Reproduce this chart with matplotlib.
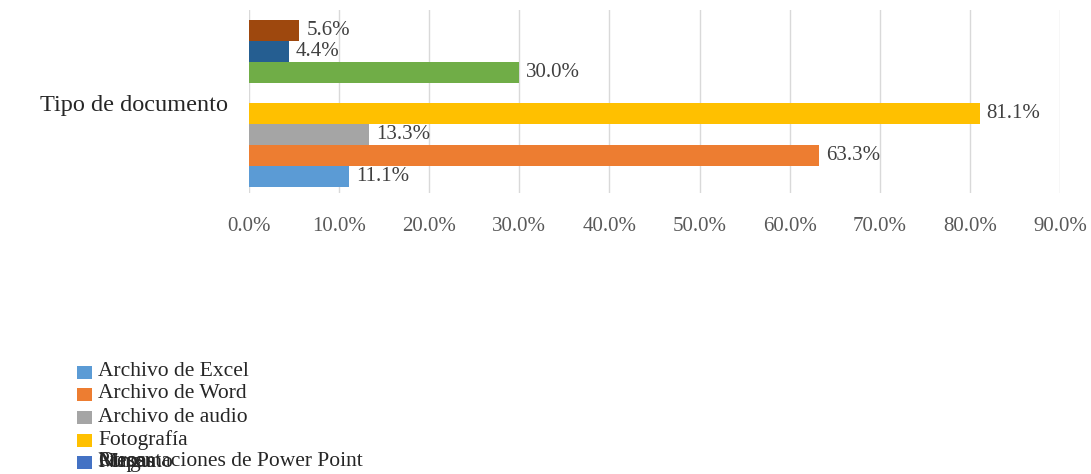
import numpy as np
import matplotlib
matplotlib.use("Agg")
import matplotlib.pyplot as plt
from matplotlib.patches import Rectangle

# Survey answers: document types shared (% of respondents)
category = "Tipo de documento"
series_names = [
    "Archivo de Excel",
    "Archivo de Word",
    "Archivo de audio",
    "Fotografía",
    "Presentaciones de Power Point",
    "Mapas",
    "Ninguno",
    "Otros",
]
series_values = [11.1, 63.3, 13.3, 81.1, np.nan, 30.0, 4.4, 5.6]
series_colors = ["#5B9BD5", "#ED7D31", "#A5A5A5", "#FFC000",
                 "#4472C4", "#70AD47", "#255E91", "#9E480E"]
x_ticks = [0, 10, 20, 30, 40, 50, 60, 70, 80, 90]

FONT = "Liberation Serif"
W, H = 1091, 474

fig = plt.figure(figsize=(W / 100, H / 100), dpi=100)
ax = fig.add_axes([249 / W, 1 - 193 / H, (1060 - 249) / W, 183 / H])

pos = np.arange(len(series_values))
for i, (v, c) in enumerate(zip(series_values, series_colors)):
    if np.isnan(v):
        continue
    ax.barh(pos[i], v, height=1.0, color=c, zorder=2)
    ax.annotate(f"{v:.1f}%", xy=(v, pos[i]), xytext=(5, 0),
                textcoords="offset points", va="center", ha="left",
                fontsize=15, family=FONT, color="#404040")

ax.set_xlim(0, 90)
ax.set_ylim(-0.79, 7.98)
ax.set_xticks(x_ticks)
ax.set_xticklabels([f"{t:.1f}%" for t in x_ticks], fontsize=15,
                   family=FONT, color="#595959")
ax.set_yticks([3.5])
ax.set_yticklabels([category], fontsize=17.5, family=FONT, color="#262626")
ax.tick_params(axis="x", length=0, pad=17)
ax.tick_params(axis="y", length=0, pad=15)
ax.grid(axis="x", color="#D9D9D9", linewidth=1.0, zorder=0)
for s in ax.spines.values():
    s.set_visible(False)

# legend drawn by hand; the last entries share one row
row_y = [372, 394, 417, 440, 462]
order = list(range(len(series_names)))
order = order[:4] + order[4:][::-1]
for i in order:
    r = min(i, 4)
    yc = row_y[r]
    fig.patches.append(Rectangle((77 / W, 1 - (yc + 6.5) / H), 15 / W, 13 / H,
                                 transform=fig.transFigure,
                                 facecolor=series_colors[i], edgecolor="none"))
    fig.text(98 / W, 1 - yc / H, series_names[i], fontsize=15.5, family=FONT,
             color="#262626", va="center", ha="left")

fig.savefig("out.png", dpi=100, facecolor="white")
